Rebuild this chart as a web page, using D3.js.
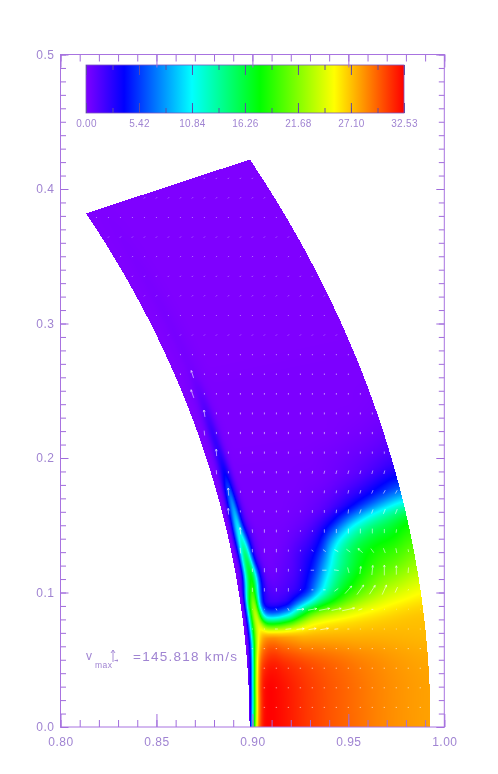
<!DOCTYPE html>
<html lang="en">
<head>
  <meta charset="UTF-8" />
  <title>Velocity map</title>
  <script src="https://d3js.org/d3.v7.min.js"></script>
  <style>
    html, body { margin: 0; padding: 0; background: #fff; }
    #wrap { position: relative; width: 498px; height: 774px; overflow: hidden; }
    #field, #chart { position: absolute; left: 0; top: 0; }
    #field { filter: blur(0.45px); }
    text { font-family: "Liberation Sans", Arial, sans-serif; fill: #a084d2; }
    .frame { fill: none; stroke: #a873e0; stroke-width: 1; }
    .axis path { display: none; }
    .axis line { stroke: #a06cdc; stroke-width: 1; }
    .barAxis line { stroke: #5f4aa8; stroke-width: 1; }
    .vec { fill: none; stroke: #fff; stroke-width: 0.8; stroke-opacity: 0.7; }
  </style>
</head>
<body>
  <div id="wrap">
    <canvas id="field" width="498" height="774"></canvas>
    <svg id="chart" width="498" height="774"></svg>
  </div>

  <script>
    const width = 498, height = 774;

    // axis ticks
    const xMajor = [0.80, 0.85, 0.90, 0.95, 1.00];
    const yMajor = [0.0, 0.1, 0.2, 0.3, 0.4, 0.5];
    const xMinor = d3.range(0, 21).map(i => 0.80 + i * 0.01);
    const yMinor = d3.range(0, 51).map(i => i * 0.01);

    // colour bar
    const barLabels = [0.00, 5.42, 10.84, 16.26, 21.68, 27.10, 32.53];
    const barStopValues = [0, 3.9, 10.84, 17.8, 25.4, 32.53];
    const barStopColors = ['#7f00ff', '#0000ff', '#00ffff', '#00ff00', '#ffff00', '#ff0000'];

    // wedge limits
    const rInner = 0.8985, rOuter = 0.9928, thetaMax = 25.15;

    // field table: one row per angle (deg), one column per fraction of the shell depth
    const thetaDeg = [0, 2, 3, 4, 4.5, 5, 5.5, 6, 7, 8, 8.5, 9, 9.5, 10, 11, 12, 13, 14, 15, 16, 17, 26];
    const depthFrac = [0, .015, .03, .045, .06, .075, .09, .11, .13, .16, .2, .26, .32, .38, .44, .5, .56, .62, .7, .8, .9, 1];
    const fieldRows = [
      [0, 11, 20, 27.5, 30.5, 32, 32.5, 32.5, 32.5, 32.3, 32, 31.5, 31, 30.6, 30.2, 29.9, 29.6, 29.3, 28.9, 28.5, 28.2, 28],
      [0, 5, 16, 25, 29.5, 31.5, 32.3, 32.5, 32.5, 32.3, 32, 31.5, 31, 30.6, 30.2, 29.9, 29.6, 29.3, 28.9, 28.5, 28.2, 28],
      [0, 2, 10, 21, 27, 30, 31, 31.6, 31.8, 31.8, 31.4, 31, 30.6, 30.2, 29.9, 29.6, 29.3, 29, 28.7, 28.3, 28, 27.8],
      [0, .8, 6, 15, 22, 26, 28, 29, 29.5, 29.5, 29, 28.5, 28, 28, 27.9, 27.8, 27.7, 27.6, 27.6, 27.5, 27.4, 27.3],
      [0, 1, 7, 15.5, 21, 24, 26, 27, 27, 27, 26.8, 26.6, 26.4, 26.5, 26.6, 26.7, 26.8, 26.9, 27, 27.1, 27.2, 27.2],
      [0, .8, 7, 15, 21, 24.5, 24, 18, 13, 11.5, 12, 15, 20, 23.5, 24.5, 25, 25.3, 25.6, 26, 26.4, 26.8, 27],
      [0, 1, 8, 17, 22, 24, 19, 8, 3.5, 2.5, 2.5, 4, 10, 15, 18, 19.5, 21, 22.5, 23.7, 24.8, 25.5, 26],
      [0, 1, 8, 16, 20, 22, 17, 7, 3, 1.8, 1.5, 1.8, 2.8, 5, 10, 14, 17, 19, 21, 23, 24, 25],
      [0, .3, 1.5, 8, 14, 18, 18, 12, 4.5, 1, .5, 1, 1.5, 3, 5.5, 10, 13.5, 15.5, 18, 20, 21, 22.5],
      [0, .3, 2, 8, 13.5, 16, 13, 5, 1.5, .5, .3, .5, 1, 2, 3, 5.5, 11, 14, 16.5, 18, 18.5, 20],
      [0, .3, 2.5, 7.5, 12.5, 14, 11, 4.5, 1.3, .5, .3, .3, .6, 1.2, 2, 3.5, 7, 11, 14, 16, 17, 19],
      [0, .3, 3, 7.5, 11, 11.5, 8, 3.5, 1.2, .4, .3, .3, .4, .7, 1.2, 2.2, 4, 6.5, 11, 14, 15.5, 17.5],
      [0, .3, 2.5, 7, 10.5, 10, 5, 1.8, .7, .3, .3, .3, .3, .4, .6, 1, 1.6, 3, 5, 8.5, 11.5, 13.5],
      [0, .2, 2, 5.5, 9, 9, 4.5, 1.5, .5, .2, .2, .2, .2, .3, .4, .6, .9, 1.4, 2.5, 3.9, 6, 8],
      [0, .2, 1, 3.5, 6.5, 7, 3.5, 1.2, .3, .2, .2, .2, .2, .2, .2, .3, .3, .4, .7, 1.2, 2, 3],
      [0, .1, .5, 1.5, 3, 4, 3, 1, .2, .2, .2, .2, .2, .2, .2, .2, .2, .3, .4, .6, .8, 1.2],
      [0, .1, .3, .8, 1.8, 2.5, 2.2, .8, .2, .1, .1, .1, .1, .1, .1, .1, .1, .1, .1, .2, .3, .5],
      [0, .1, .2, .6, 1.3, 2.2, 2, .9, .3, .1, .1, .1, .1, .1, .1, .1, .1, .1, .1, .1, .1, .2],
      [0, 0, .1, .3, .7, 1.2, 1.5, 1, .3, .1, .1, .1, .1, .1, .1, .1, .1, .1, .1, .1, .1, .1],
      [0, 0, .1, .2, .3, .6, .8, .7, .3, .1, .1, .1, .1, .1, .1, .1, .1, .1, .1, .1, .1, .1],
      [0, 0, 0, .1, .1, .2, .3, .3, .2, .1, 0, 0, 0, 0, 0, 0, 0, 0, 0, 0, 0, 0],
      [0, 0, 0, 0, 0, 0, 0, 0, 0, 0, 0, 0, 0, 0, 0, 0, 0, 0, 0, 0, 0, 0]
    ];

    // velocity grid spacing, and the small vector seen in each row (km/s), row 1 is the lowest
    const vMax = 145.818;
    const gridDx = 0.00625, gridDy = 0.01457;
    const quietVx = [14, 14, 14, 14, 10, 6, 5, 0, 0, 0, 0, 0, 0, 0, 0, 0, 0, 0, 0, 8, 8, 8, 8, 8, 8, 8, 8, 8];
    const quietVy = [0, 0, 0, 0, 0, 4, 8, 12, 12, 12, 14, 16, 16, 16, 16, 14, 12, 10, 8, 6, 6, 6, 6, 6, 6, 6, 6, 6];

    // the larger vectors: [row, column, vx, vy]
    const strongArrows = [
      [5, 18, 30, 0], [5, 19, 60, 5], [5, 20, 80, 5], [5, 21, 80, 8], [5, 22, 85, 10], [5, 23, 40, 3], [5, 24, 20, 0],
      [6, 18, 10, -15], [6, 19, 15, -20], [6, 20, 75, 5], [6, 21, 90, 12], [6, 22, 110, 15], [6, 23, 100, 15], [6, 24, 130, 20], [6, 25, 40, 10], [6, 26, 20, 0],
      [7, 17, 0, 25], [7, 18, 0, 25], [7, 19, 0, 25], [7, 21, 20, 0], [7, 22, 25, 0], [7, 23, 40, 20], [7, 24, 70, 55], [7, 25, 70, 70], [7, 26, 60, 65], [7, 27, 45, 70], [7, 28, 25, 40],
      [8, 17, 0, 30], [8, 18, 0, 30], [8, 19, 0, 20], [8, 21, -35, 0], [8, 22, -45, 0], [8, 23, -50, 5], [8, 24, -15, 40], [8, 25, 10, 55], [8, 26, 10, 70], [8, 27, 0, 75], [8, 28, 0, 65], [8, 29, 5, 40],
      [9, 16, -3, 25], [9, 17, 0, 30], [9, 18, 0, 25], [9, 19, 0, 15], [9, 21, -20, 10], [9, 22, -30, 15], [9, 23, -40, 15], [9, 24, -40, 20], [9, 25, -50, 30], [9, 26, -30, 30], [9, 27, -20, 35], [9, 28, -10, 35], [9, 29, -5, 20],
      [10, 16, -3, 25], [10, 17, 0, 25], [10, 18, 0, 20], [10, 22, 0, 25], [10, 23, 0, 30], [10, 24, 0, 35], [10, 25, 0, 35], [10, 26, 0, 35], [10, 27, 0, 30], [10, 28, 5, 25],
      [11, 21, 0, 20], [11, 22, 0, 20], [11, 23, 5, 25], [11, 24, 5, 30], [11, 25, 15, 30], [11, 26, 15, 30], [11, 27, 20, 35], [11, 28, 20, 35],
      [12, 21, 0, 15], [12, 22, 3, 20], [12, 23, 5, 20], [12, 24, 8, 25], [12, 25, 10, 25], [12, 26, 15, 25], [12, 27, 20, 25], [12, 28, 20, 25],
      [13, 21, 5, 20], [13, 22, 8, 22], [13, 23, 10, 25], [13, 24, 10, 25], [13, 25, 10, 25], [13, 26, 10, 25], [13, 27, 10, 25],
      [7, 16, 0, 30], [8, 15, 0, 35], [8, 16, 0, 25], [9, 15, -5, 40], [10, 15, -8, 50],
      [11, 14, -5, 45], [12, 14, -5, 55], [13, 13, -3, 30], [14, 13, -5, 50], [15, 12, -5, 35], [16, 12, -10, 50],
      [17, 11, -30, 60], [18, 11, -25, 55]
    ];

    const x = d3.scaleLinear().domain([0.80, 1.00]).range([60.5, 444.3]);
    const y = d3.scaleLinear().domain([0, 0.5]).range([727, 54.5]);
    const barX = d3.scaleLinear().domain([0, 32.53]).range([86, 404]);
    const color = d3.scaleLinear().domain(barStopValues).range(barStopColors).clamp(true);
    const vxPx = d3.scaleLinear().domain([0, vMax]).range([0, 14]);
    const vyPx = d3.scaleLinear().domain([0, vMax]).range([0, 20]);

    // bilinear lookup in the field table
    function fieldAt(theta, f) {
      theta = Math.max(0, theta);
      f = Math.max(0, Math.min(1, f));
      const i = Math.max(1, Math.min(thetaDeg.length - 1, d3.bisectRight(thetaDeg, theta)));
      const j = Math.max(1, Math.min(depthFrac.length - 1, d3.bisectRight(depthFrac, f)));
      const a = (theta - thetaDeg[i - 1]) / (thetaDeg[i] - thetaDeg[i - 1]);
      const b = (f - depthFrac[j - 1]) / (depthFrac[j] - depthFrac[j - 1]);
      const low = fieldRows[i - 1][j - 1] * (1 - b) + fieldRows[i - 1][j] * b;
      const high = fieldRows[i][j - 1] * (1 - b) + fieldRows[i][j] * b;
      return low * (1 - a) + high * a;
    }

    // small box average, takes the kinks of the coarse table out of the shading
    const boxSteps = [-1, -0.5, 0, 0.5, 1];
    function smoothField(theta, f) {
      const dt = 0.35, df = 0.005 + 0.04 * f;
      return d3.mean(boxSteps, s => d3.mean(boxSteps, u => fieldAt(theta + s * dt, f + u * df)));
    }

    function toPolar(dx, dy) {
      const r = Math.hypot(dx, dy);
      return { theta: Math.atan2(dy, dx) * 180 / Math.PI, f: (r - rInner) / (rOuter - rInner) };
    }

    // field image
    const ctx = document.getElementById('field').getContext('2d');
    const img = ctx.createImageData(width, height);
    for (let py = 0; py < height; py++) {
      for (let px = 0; px < width; px++) {
        const p = toPolar(x.invert(px + 0.5), y.invert(py + 0.5));
        if (p.f < 0 || p.f > 1 || p.theta < 0 || p.theta > thetaMax) continue;
        const c = d3.rgb(color(smoothField(p.theta, p.f)));
        const k = (py * width + px) * 4;
        img.data[k] = c.r; img.data[k + 1] = c.g; img.data[k + 2] = c.b; img.data[k + 3] = 255;
      }
    }
    ctx.putImageData(img, 0, 0);

    const svg = d3.select('#chart');

    // velocity arrows
    const strongByCell = new Map(strongArrows.map(a => [a[0] + '_' + a[1], a]));
    const arrowLine = d3.line();
    const vecs = [];
    for (let row = 1; row <= quietVx.length; row++) {
      for (let col = 0; col <= 32; col++) {
        const gx = 0.80 + col * gridDx, gy = row * gridDy;
        const p = toPolar(gx, gy);
        if (p.f < 0.03 || p.f > 0.985 || p.theta > thetaMax) continue;
        const s = strongByCell.get(row + '_' + col);
        vecs.push({ gx, gy, vx: s ? s[2] : quietVx[row - 1], vy: s ? s[3] : quietVy[row - 1] });
      }
    }
    svg.append('g').selectAll('path').data(vecs).join('path')
      .attr('class', 'vec')
      .attr('d', d => {
        const dx = vxPx(d.vx), dy = -vyPx(d.vy);
        const x0 = x(d.gx) - dx / 2, y0 = y(d.gy) - dy / 2, x1 = x0 + dx, y1 = y0 + dy;
        const len = Math.hypot(dx, dy);
        let out = arrowLine([[x0, y0], [x1, y1]]);
        if (len > 6) {
          const ux = dx / len, uy = dy / len;
          out += arrowLine([[x1 - 2 * ux - uy, y1 - 2 * uy + ux], [x1, y1], [x1 - 2 * ux + uy, y1 - 2 * uy - ux]]);
        }
        return out;
      });

    // colour bar
    const defs = svg.append('defs');
    const grad = defs.append('linearGradient').attr('id', 'barGrad');
    grad.selectAll('stop').data(barStopValues).join('stop')
      .attr('offset', d => d / 32.53)
      .attr('stop-color', d => color(d));
    svg.append('rect')
      .attr('x', barX(0)).attr('y', 65).attr('width', barX(32.53) - barX(0)).attr('height', 48)
      .attr('fill', 'url(#barGrad)').attr('stroke', '#7a55c0').attr('stroke-width', 0.8);

    const barMinor = d3.range(0, 13).map(i => i * 32.53 / 12);
    svg.append('g').attr('class', 'barAxis').attr('transform', 'translate(0,113)')
      .call(d3.axisBottom(barX).tickValues(barMinor).tickSize(-5).tickFormat(''));
    svg.append('g').attr('class', 'barAxis').attr('transform', 'translate(0,65)')
      .call(d3.axisTop(barX).tickValues(barMinor).tickSize(-5).tickFormat(''));
    svg.append('g').attr('class', 'barAxis axis').attr('transform', 'translate(0,113)')
      .call(d3.axisBottom(barX).tickValues(barLabels).tickSize(-10).tickPadding(7).tickFormat(d3.format('.2f')))
      .call(g => g.selectAll('text').attr('font-size', 10).style('letter-spacing', '0.3px'));
    svg.append('g').attr('class', 'barAxis axis').attr('transform', 'translate(0,65)')
      .call(d3.axisTop(barX).tickValues(barLabels).tickSize(-10).tickFormat(''));
    svg.selectAll('.barAxis path').style('display', 'none');

    // frame and axes
    function axes(sel, axisFn, scale, at, minorVals, majorVals, minorLen, majorLen, padding, fmt) {
      sel.append('g').attr('class', 'axis').attr('transform', at)
        .call(axisFn(scale).tickValues(minorVals).tickSize(-minorLen).tickFormat(''));
      const g = sel.append('g').attr('class', 'axis').attr('transform', at)
        .call(axisFn(scale).tickValues(majorVals).tickSize(-majorLen).tickPadding(padding).tickFormat(fmt || ''));
      g.selectAll('text').attr('font-size', 12).style('letter-spacing', '0.5px');
    }
    axes(svg, d3.axisBottom, x, 'translate(0,727)', xMinor, xMajor, 7, 13, 10, d3.format('.2f'));
    axes(svg, d3.axisTop, x, 'translate(0,54.5)', xMinor, xMajor, 7, 13, 3);
    axes(svg, d3.axisLeft, y, 'translate(60.5,0)', yMinor, yMajor, 5.5, 8, 6, d3.format('.1f'));
    axes(svg, d3.axisRight, y, 'translate(444.3,0)', yMinor, yMajor, 5.5, 8, 3);
    svg.append('rect').attr('class', 'frame')
      .attr('x', x(0.80)).attr('y', y(0.5)).attr('width', x(1.00) - x(0.80)).attr('height', y(0) - y(0.5));

    // speed note
    svg.append('text').attr('x', 86).attr('y', 660).attr('font-size', 12).text('v');
    svg.append('text').attr('x', 95).attr('y', 668).attr('font-size', 8.5).attr('textLength', 17).text('max');
    svg.append('path').attr('fill', 'none').attr('stroke', '#a084d2').attr('stroke-width', 0.9)
      .attr('d', 'M113,662V650M111,653L113,650L115,653M114.5,660.5H118M116.8,659.5L118,660.5L116.8,661.5');
    svg.append('text').attr('x', 133).attr('y', 661).attr('font-size', 13.5)
      .attr('textLength', 104).text('=145.818 km/s');
  </script>
</body>
</html>
